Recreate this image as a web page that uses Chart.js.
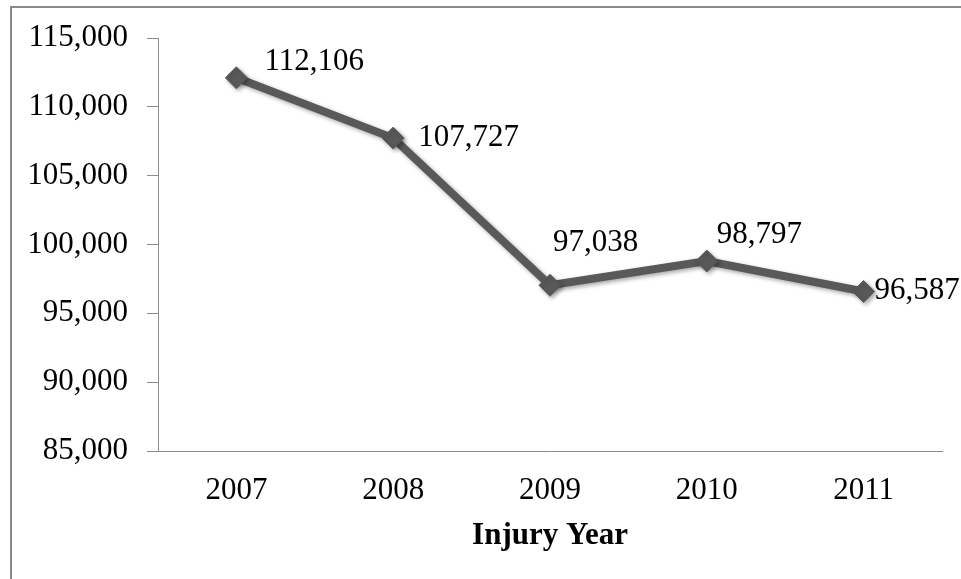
<!DOCTYPE html>
<html>
<head>
<meta charset="utf-8">
<script src="https://cdn.jsdelivr.net/npm/chart.js@4/dist/chart.umd.min.js"></script>
<style>
  html, body { margin: 0; padding: 0; background: #fff; overflow: hidden; }
  #wrap { position: relative; width: 961px; height: 579px; }
  #frame {
    position: absolute; left: 10px; top: 6px; width: 2000px; height: 2000px;
    border-top: 2px solid #8a8a8a; border-left: 2px solid #8a8a8a;
  }
  #chart { position: absolute; left: 0; top: 0; }
</style>
</head>
<body>
<div id="wrap">
  <div id="frame"></div>
  <canvas id="chart" width="961" height="579"></canvas>
</div>
<script>
// chart data
var years = ['2007', '2008', '2009', '2010', '2011'];
var claims = [112106, 107727, 97038, 98797, 96587];
var yTicks = [85000, 90000, 95000, 100000, 105000, 110000, 115000];

var lineColor = '#595959';
var axisColor = '#8c8c8c';
var serif = '"Liberation Serif", "Times New Roman", serif';

// label placement relative to each point (left edge, vertical middle)
var labelOffsets = [[28, -16], [25, 0], [3, -42], [10, -26], [11, -1]];

var fmt = function (v) { return v.toLocaleString('en-US'); };

// soft drop shadow under line and markers
var shadowPlugin = {
  id: 'shadow',
  beforeDatasetsDraw: function (chart) {
    var ctx = chart.ctx;
    ctx.save();
    ctx.shadowColor = 'rgba(0,0,0,0.35)';
    ctx.shadowBlur = 4;
    ctx.shadowOffsetX = 2;
    ctx.shadowOffsetY = 2;
  },
  afterDatasetsDraw: function (chart) {
    chart.ctx.restore();
  }
};

var valueLabels = {
  id: 'valueLabels',
  afterDraw: function (chart) {
    var ctx = chart.ctx;
    var meta = chart.getDatasetMeta(0);
    ctx.save();
    ctx.font = '31px ' + serif;
    ctx.fillStyle = '#000';
    ctx.textAlign = 'left';
    ctx.textBaseline = 'middle';
    meta.data.forEach(function (pt, i) {
      var off = labelOffsets[i];
      ctx.fillText(fmt(claims[i]), pt.x + off[0], pt.y + off[1]);
    });
    ctx.restore();
  }
};

new Chart(document.getElementById('chart'), {
  type: 'line',
  data: {
    labels: years,
    datasets: [{
      data: claims,
      borderColor: lineColor,
      backgroundColor: lineColor,
      borderWidth: 8,
      tension: 0,
      pointStyle: 'rectRot',
      pointRadius: 11,
      pointBorderWidth: 1,
      pointBackgroundColor: lineColor,
      pointBorderColor: lineColor
    }]
  },
  options: {
    responsive: false,
    animation: false,
    layout: { padding: { top: 38, right: 19, left: 0, bottom: 0 } },
    plugins: {
      legend: { display: false },
      tooltip: { enabled: false },
      title: { display: false }
    },
    scales: {
      x: {
        offset: true,
        grid: { display: false },
        border: { display: true, color: axisColor, width: 1 },
        ticks: { color: '#000', padding: 13, font: { family: serif, size: 31 } },
        title: {
          display: true,
          text: 'Injury Year',
          color: '#000',
          padding: { top: 0, bottom: 24 },
          font: { family: serif, size: 31, weight: 'bold' }
        },
        afterFit: function (scale) { scale.height = 128; }
      },
      y: {
        min: 85000,
        max: 115000,
        afterBuildTicks: function (scale) {
          scale.ticks = yTicks.map(function (v) { return { value: v }; });
        },
        grid: { drawOnChartArea: false, drawTicks: true, tickLength: 11, color: axisColor },
        border: { display: true, color: axisColor, width: 1 },
        ticks: {
          color: '#000',
          padding: 19,
          font: { family: serif, size: 31 },
          callback: function (v) { return fmt(v); }
        },
        afterFit: function (scale) { scale.width = 158; }
      }
    }
  },
  plugins: [shadowPlugin, valueLabels]
});
</script>
</body>
</html>
